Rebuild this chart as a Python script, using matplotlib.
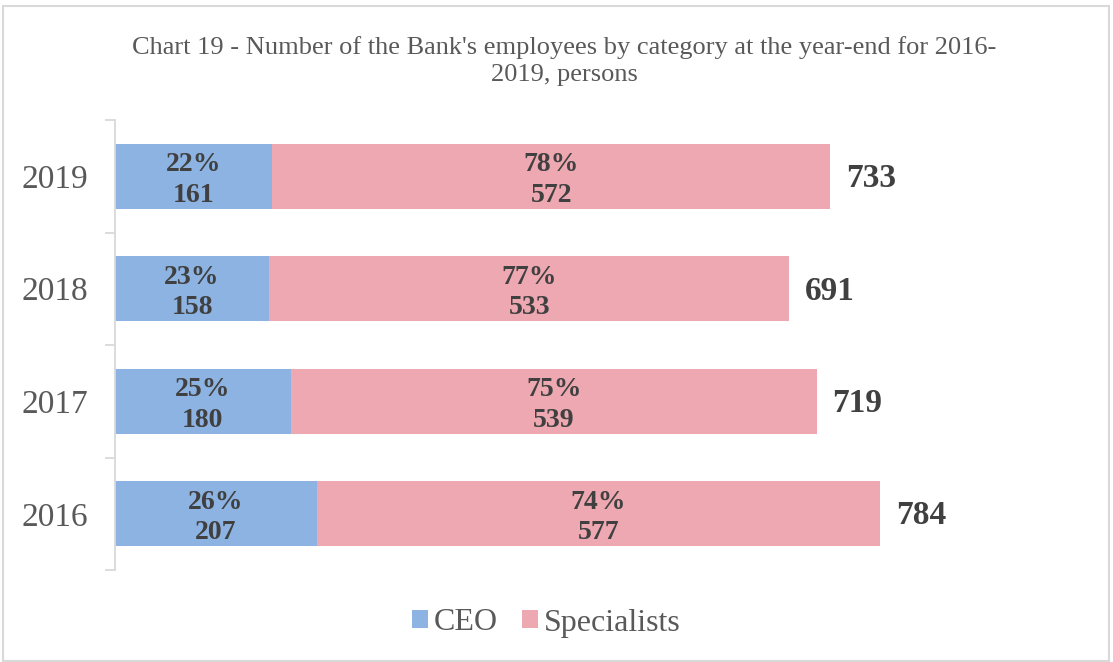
import numpy as np
import matplotlib.pyplot as plt
from matplotlib.patches import Rectangle

years = ["2016", "2017", "2018", "2019"]
ceo = [207, 180, 158, 161]
specialists = [577, 539, 533, 572]
ceo_pct = ["26%", "25%", "23%", "22%"]
spec_pct = ["74%", "75%", "77%", "78%"]

BLUE = "#8DB3E2"
PINK = "#EEA8B2"
GRAY = "#595959"
DARK = "#404040"

plt.rcParams['font.family'] = ['Liberation Serif', 'DejaVu Serif']

W, H = 1113, 662
fig = plt.figure(figsize=(W / 100, H / 100), dpi=100)

# plot area in pixels: left 115, right 1000, top 120, bottom 570
ax = fig.add_axes([115 / W, 1 - 570 / H, 885 / W, 450 / H])

y = np.arange(len(years))
totals = [c + s for c, s in zip(ceo, specialists)]
bar_h = 0.58

ax.barh(y, ceo, height=bar_h, color=BLUE, label="CEO")
ax.barh(y, specialists, left=ceo, height=bar_h, color=PINK, label="Specialists")

for i in range(len(years)):
    ax.text(ceo[i] / 2, y[i] - 0.035, f"{ceo_pct[i]}\n{ceo[i]}", ha="center", va="center",
            fontsize=20, fontweight="bold", color=DARK, linespacing=1.29)
    ax.text(ceo[i] + specialists[i] / 2, y[i] - 0.035, f"{spec_pct[i]}\n{specialists[i]}",
            ha="center", va="center", fontsize=20, fontweight="bold", color=DARK,
            linespacing=1.29)
    ax.text(totals[i] + 16, y[i] - 0.02, str(totals[i]), ha="left", va="center",
            fontsize=24, fontweight="bold", color=DARK)

ax.set_xlim(0, 885 / 0.976)
ax.set_ylim(-0.5, len(years) - 0.5)

ax.set_yticks(y)
ax.set_yticklabels(years, fontsize=24, color=GRAY)
ax.set_yticks(np.arange(-0.5, len(years)), minor=True)
ax.tick_params(axis="y", which="major", length=0, pad=19)
ax.tick_params(axis="y", which="minor", length=7.2, color="#D9D9D9", width=1.3)
ax.set_xticks([])

for side in ["top", "right", "bottom"]:
    ax.spines[side].set_visible(False)
ax.spines["left"].set_color("#D9D9D9")
ax.spines["left"].set_linewidth(1.3)

fig.text(564 / W, 1 - 61 / H,
         "Chart 19 - Number of the Bank's employees by category at the year-end for 2016-\n2019, persons",
         ha="center", va="center", fontsize=19, color=GRAY, linespacing=1.3)

fig.legend(loc="center", bbox_to_anchor=(546 / W, 1 - 623 / H), ncol=2, frameon=False,
           fontsize=23, labelcolor=GRAY, handlelength=0.5, handleheight=0.5,
           handletextpad=0.19, columnspacing=0.75)

# chart border
fig.patches.append(Rectangle((3 / W, 1 / H), 1106 / W, 655 / H, transform=fig.transFigure,
                             fill=False, edgecolor="#D9D9D9", linewidth=1.5))

fig.savefig("out.png", dpi=100)
